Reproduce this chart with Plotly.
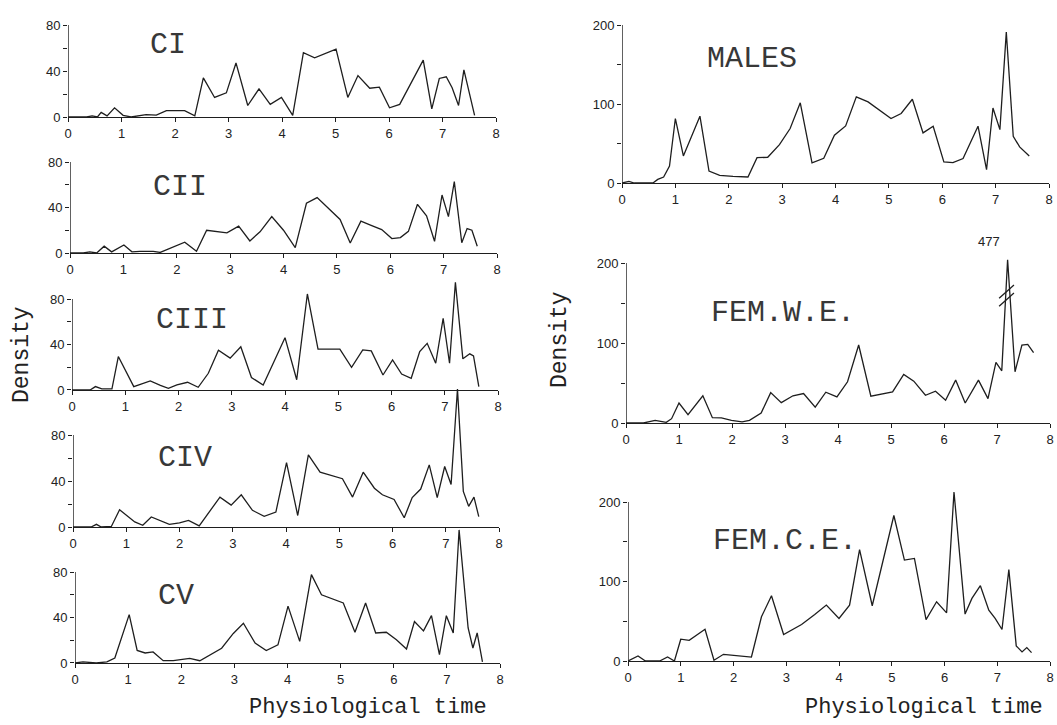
import plotly.graph_objects as go

W, H = 1057, 725

# ---------------- data ----------------
ci_x = [0, 0.35, 0.45, 0.55, 0.62, 0.73, 0.87, 1.03, 1.18, 1.46, 1.65, 1.84, 2.18, 2.37, 2.53, 2.74, 2.96, 3.14, 3.36, 3.57,
        3.78, 3.99, 4.2, 4.4, 4.61, 5.01, 5.23, 5.42, 5.64, 5.82, 6.01, 6.2, 6.64, 6.8, 6.94, 7.07, 7.18, 7.3, 7.4, 7.6]
ci_y = [0, 0, 1, 0, 4, 1, 8, 1.5, 0, 2, 1.7, 5.5, 5.5, 1, 34, 17, 21, 47, 10, 24.5,
        11, 17, 1.5, 56, 51.5, 59, 17, 36, 25, 26, 8, 11, 49.5, 7, 33.5, 35, 25.5, 10, 41, 1.5]

cii_x = [0, 0.25, 0.37, 0.5, 0.64, 0.78, 1.01, 1.16, 1.31, 1.56, 1.69, 2.15, 2.37, 2.56, 2.94, 3.16, 3.37, 3.56, 3.78, 4.0,
         4.22, 4.43, 4.63, 5.06, 5.25, 5.45, 5.63, 5.84, 6.03, 6.19, 6.34, 6.51, 6.68, 6.83, 6.97, 7.09, 7.2, 7.34, 7.44, 7.53, 7.63]
cii_y = [0, 0, 1, 0, 6, 1, 7, 1, 1.5, 1.5, 0.5, 9.5, 1.5, 20, 17.7, 23.6, 10.6, 18.6, 32, 20,
         4.7, 43.7, 48.7, 29.5, 8.8, 28, 24.5, 20.6, 12.7, 13.6, 19, 42.8, 32.7, 10.3, 51, 32, 62.8, 9, 21.5, 20, 6]

ciii_x = [0, 0.34, 0.44, 0.56, 0.75, 0.87, 1.16, 1.47, 1.66, 1.81, 1.97, 2.17, 2.37, 2.56, 2.75, 2.97, 3.17, 3.37, 3.59, 4.0,
          4.22, 4.42, 4.62, 5.03, 5.25, 5.46, 5.62, 5.84, 6.02, 6.19, 6.37, 6.53, 6.67, 6.83, 6.97, 7.09, 7.2, 7.34, 7.47, 7.54, 7.64]
ciii_y = [0, 0, 3, 1, 1, 29.4, 3, 8, 4, 1.5, 4.4, 6.8, 2.4, 14.7, 35, 28, 38, 11, 4.4, 46,
          9, 84.4, 36, 36, 20, 35.3, 34.4, 13.2, 26.5, 14, 10.3, 33.8, 41, 23.5, 63, 23.5, 94.7, 27.4, 31.8, 30, 3]

civ_x = [0, 0.34, 0.44, 0.53, 0.72, 0.875, 1.16, 1.31, 1.47, 1.81, 2.0, 2.17, 2.37, 2.56, 2.76, 2.97, 3.16, 3.37, 3.59, 3.81,
         4.01, 4.22, 4.42, 4.64, 5.06, 5.25, 5.45, 5.66, 5.81, 6.03, 6.22, 6.37, 6.53, 6.69, 6.84, 6.98, 7.1, 7.22, 7.33, 7.43, 7.53, 7.62]
civ_y = [0, 0, 2.3, 0, 0.5, 15, 4.4, 1.5, 8.7, 2.3, 3.5, 5.8, 1, 13, 26, 19, 28, 14.5, 9.3, 13,
         56, 10, 62.8, 47.7, 42, 26, 47.7, 33.7, 28, 24, 8, 25.6, 33, 54, 25.6, 52.6, 37, 120, 31, 18, 26, 9]

cv_x = [0, 0.15, 0.4, 0.6, 0.75, 1.02, 1.17, 1.32, 1.47, 1.66, 1.85, 2.0, 2.16, 2.35, 2.54, 2.76, 2.98, 3.17, 3.39, 3.6,
        3.82, 4.01, 4.23, 4.45, 4.64, 5.05, 5.27, 5.47, 5.66, 5.86, 6.05, 6.24, 6.39, 6.56, 6.71, 6.86, 6.99, 7.12, 7.23, 7.4,
        7.49, 7.57, 7.67]
cv_y = [0, 1, 0, 1, 4.4, 42.5, 11, 8.8, 9.7, 2, 2, 3, 4, 2, 7.3, 13, 26, 35, 17.6, 11,
        16, 50, 19, 77.7, 60, 52.8, 27, 52.8, 26.4, 27, 20.5, 12.3, 36.4, 28.2, 41.6, 7.3, 41.6, 26.4, 117, 30.8,
        13.2, 26.4, 1]

males_x = [0, 0.13, 0.23, 0.58, 0.67, 0.78, 0.89, 1.0, 1.15, 1.46, 1.63, 1.83, 2.08, 2.36, 2.53, 2.73, 2.95, 3.15, 3.34, 3.56,
           3.78, 3.98, 4.19, 4.39, 4.61, 5.04, 5.23, 5.44, 5.64, 5.83, 6.03, 6.2, 6.39, 6.67, 6.83, 6.95, 7.08, 7.2, 7.33, 7.45, 7.63]
males_y = [0, 2, 0, 0, 4.6, 7.6, 21.5, 81.6, 34.2, 84.6, 15.2, 9.7, 8.5, 7.6, 32, 32.6, 48.6, 69, 101.5, 25.4,
           31.3, 60.5, 72.3, 109, 102.7, 81.6, 88, 106, 63.4, 71.9, 26.6, 25.8, 30.9, 71.9, 16.9, 95, 67.6, 191, 59.2, 45.7, 34.2]

femwe_x = [0, 0.33, 0.55, 0.76, 0.86, 1.0, 1.17, 1.45, 1.63, 1.8, 1.99, 2.19, 2.33, 2.55, 2.73, 2.93, 3.15, 3.35, 3.57, 3.77,
           3.98, 4.18, 4.39, 4.62, 5.03, 5.24, 5.43, 5.65, 5.84, 6.03, 6.22, 6.4, 6.65, 6.83, 6.98, 7.09, 7.2, 7.34, 7.47, 7.58, 7.69]
femwe_y = [0, 0, 3.3, 0.8, 5.4, 25, 10.5, 34, 6.7, 6.3, 3.3, 1.3, 3.3, 12.5, 38, 25.5, 34, 36.8, 19.7, 38.5,
           32.6, 51.5, 97.5, 33.5, 38.9, 60.7, 52.3, 34.7, 39.7, 28.5, 53.6, 25, 53.6, 30.5, 75.7, 65.3, 477, 64, 97.5, 98.3, 87.9]

femce_x = [0, 0.06, 0.19, 0.33, 0.6, 0.75, 0.88, 1.0, 1.16, 1.46, 1.63, 1.81, 2.34, 2.53, 2.72, 2.95, 3.29, 3.54, 3.76, 4.0,
           4.2, 4.39, 4.63, 5.04, 5.24, 5.43, 5.65, 5.85, 6.04, 6.18, 6.39, 6.52, 6.68, 6.84, 6.96, 7.09, 7.22, 7.36, 7.47, 7.56, 7.65]
femce_y = [0, 2, 6.3, 0, 0, 5, 0, 27.4, 26, 40, 1, 8.4, 5, 55.6, 82, 33.3, 45.9, 58.5, 70.3, 53.5,
           70.3, 140, 69.5, 183, 127, 129, 52, 74.5, 60.6, 212.6, 59, 78.7, 94.7, 64, 53.5, 39.6, 115, 19, 11.4, 16.8, 10.5]

labels = ["CI", "CII", "CIII", "CIV", "CV", "MALES", "FEM.W.E.", "FEM.C.E."]
x_ticks = [0, 1, 2, 3, 4, 5, 6, 7, 8]
left_yticks = [0, 20, 40, 60, 80]
left_yticktext = ["0", "", "40", "", "80"]
right_yticks = [0, 50, 100, 150, 200]
right_yticktext = ["0", "", "100", "", "200"]
x_title = "Physiological time"
y_title = "Density"
peak_label = "477"

# ---------------- layout geometry (pixels) ----------------
# (x at 0, x at 8, y px at 0, y px at top tick, top tick value, y max shown)
geom = [
    (68, 496, 117, 25, 80, 100),
    (70, 497, 253, 162, 80, 122),
    (72, 498, 390, 299, 80, 122),
    (73, 499, 527, 435, 80, 122),
    (75, 500, 663, 572, 80, 122),
    (622, 1049, 183, 25, 200, 230),
    (626, 1050, 423, 263, 200, 230),
    (628, 1050, 661, 502, 200, 230),
]
label_pos = [(168, 45), (180, 187), (192, 320), (185, 458), (176, 596),
             (752, 59), (783, 313), (785, 541)]
BREAK_LEVEL = 204  # FEM.W.E. peak drawn broken at this height

series = [(ci_x, ci_y), (cii_x, cii_y), (ciii_x, ciii_y), (civ_x, civ_y), (cv_x, cv_y),
          (males_x, males_y), (femwe_x, femwe_y), (femce_x, femce_y)]

INK = "#1e1e1e"
fig = go.Figure()
layout = {}
shapes = []
annotations = []

for i, ((xs, ys), g, lab, lp) in enumerate(zip(series, geom, labels, label_pos), start=1):
    x0p, x8p, y0p, ytp, ytop, ymax = g
    ppu = (y0p - ytp) / ytop
    top_px = y0p - ymax * ppu
    suffix = "" if i == 1 else str(i)
    ydisp = [min(v, BREAK_LEVEL) for v in ys] if i == 7 else ys
    fig.add_trace(go.Scatter(x=xs, y=ydisp, mode="lines",
                             line=dict(color=INK, width=1.3),
                             xaxis="x" + suffix, yaxis="y" + suffix,
                             showlegend=False, hoverinfo="skip"))
    is_left = i <= 5
    layout["xaxis" + suffix] = dict(
        domain=[x0p / W, x8p / W], range=[0, 8], anchor="y" + suffix, automargin=False,
        showline=True, linecolor=INK, linewidth=1.4, ticks="outside", ticklen=4,
        tickwidth=1.3, tickcolor=INK, tickvals=x_ticks, showgrid=False, zeroline=False,
        tickfont=dict(family="Liberation Sans", size=13, color="#222"), fixedrange=True)
    layout["yaxis" + suffix] = dict(
        domain=[(H - y0p) / H, min(1, (H - top_px) / H)], range=[0, ymax], anchor="x" + suffix,
        automargin=False,
        showline=False, ticks="outside", ticklen=4, tickwidth=1.3, tickcolor=INK,
        tickvals=left_yticks if is_left else right_yticks,
        ticktext=left_yticktext if is_left else right_yticktext,
        showgrid=False, zeroline=False,
        tickfont=dict(family="Liberation Sans", size=13, color="#222"), fixedrange=True)
    shapes.append(dict(type="line", xref="x" + suffix, yref="y" + suffix,
                       x0=0, x1=0, y0=0, y1=ytop, line=dict(color=INK, width=1.4)))
    annotations.append(dict(text=lab, x=lp[0] / W, y=1 - lp[1] / H, xref="paper", yref="paper",
                            showarrow=False, xanchor="center", yanchor="middle",
                            font=dict(family="Liberation Mono", size=30, color="#383838")))

# break marks on FEM.W.E. spike
for off in (0, -10):
    shapes.append(dict(type="line", xref="x7", yref="y7", x0=7.04, x1=7.32,
                       y0=156 + off, y1=172.5 + off, line=dict(color=INK, width=1.3)))
annotations.append(dict(text=peak_label, x=1002 / W, y=1 - 242 / H, xref="paper", yref="paper",
                        showarrow=False, font=dict(family="Liberation Sans", size=13, color="#222")))

# axis titles
for (cx, cy) in [(368, 707), (924, 707)]:
    annotations.append(dict(text=x_title, x=cx / W, y=1 - cy / H, xref="paper", yref="paper",
                            showarrow=False, xanchor="center", yanchor="middle",
                            font=dict(family="Liberation Mono", size=22, color="#222")))
for (cx, cy) in [(22, 355), (560, 340)]:
    annotations.append(dict(text=y_title, x=cx / W, y=1 - cy / H, xref="paper", yref="paper",
                            showarrow=False, xanchor="center", yanchor="middle", textangle=-90,
                            font=dict(family="Liberation Mono", size=23, color="#222")))

fig.update_layout(width=W, height=H, margin=dict(l=0, r=0, t=0, b=0),
                  paper_bgcolor="white", plot_bgcolor="rgba(0,0,0,0)",
                  shapes=shapes, annotations=annotations, hovermode=False, **layout)
fig.write_html("out.html", config={"displayModeBar": False},
               post_script="document.body.style.margin='0';document.body.style.overflow='hidden';")
